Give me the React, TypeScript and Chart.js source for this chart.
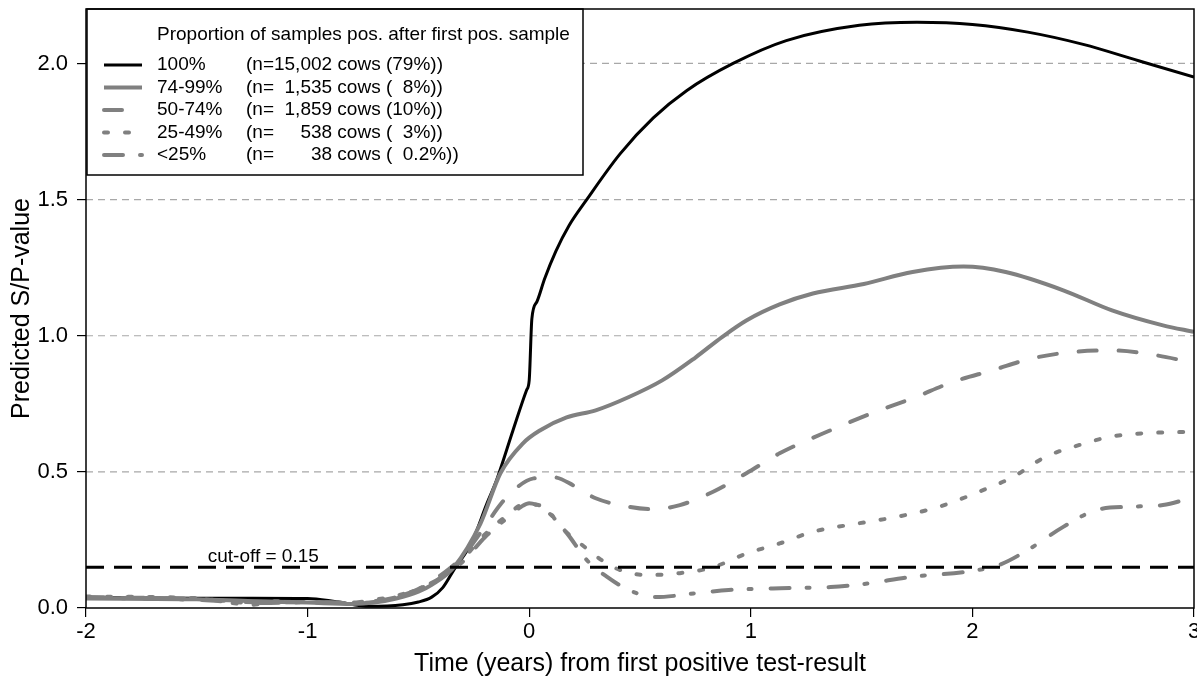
import React, { useEffect, useRef } from "react";
import { Chart, registerables } from "chart.js";

Chart.register(...registerables);

const FONT = '"Liberation Sans", Arial, Helvetica, sans-serif';

// ---- axes / labels ----
const xTicks = [-2, -1, 0, 1, 2, 3];
const yTicks = [0, 0.5, 1, 1.5, 2];
const yGridValues = [0.5, 1, 1.5, 2];
const xMin = -2;
const xMax = 3;
const yMin = 0;
const yMax = 2.2;
const cutoffValue = 0.15;
const cutoffLabel = "cut-off = 0.15";
const cutoffLabelX = -1.2;
const xTitle = "Time (years) from first positive test-result";
const yTitle = "Predicted S/P-value";
const legendTitle = "Proportion of samples pos. after first pos. sample";

const seriesNames = ["100%", "74-99%", "50-74%", "25-49%", "<25%"];
const seriesCounts = [
  "(n=15,002 cows (79%))",
  "(n=  1,535 cows (  8%))",
  "(n=  1,859 cows (10%))",
  "(n=     538 cows (  3%))",
  "(n=       38 cows (  0.2%))",
];

// ---- series: 100% ----
const x100 = [-2, -1.75, -1.5, -1.25, -1.0, -0.87, -0.72, -0.57, -0.5, -0.44, -0.39, -0.34, -0.26, -0.19, -0.147, -0.073, -0.012, 0.0, 0.012, 0.035, 0.07, 0.12, 0.18, 0.257, 0.41, 0.56, 0.71, 0.92, 1.16, 1.49, 1.75, 2.0, 2.25, 2.5, 2.75, 3.0];
const y100 = [0.038, 0.037, 0.036, 0.036, 0.035, 0.023, 0.006, 0.012, 0.022, 0.04, 0.075, 0.14, 0.24, 0.385, 0.47, 0.653, 0.8, 0.836, 1.062, 1.125, 1.21, 1.31, 1.405, 1.497, 1.668, 1.8, 1.9, 2.0, 2.084, 2.14, 2.151, 2.143, 2.115, 2.07, 2.01, 1.95];

// ---- series: 74-99% ----
const x7499 = [-2, -1.5, -1.25, -1.0, -0.8, -0.7, -0.6, -0.5, -0.44, -0.34, -0.22, -0.13, -0.028, 0.05, 0.169, 0.3, 0.45, 0.6, 0.75, 0.87, 0.98, 1.13, 1.28, 1.51, 1.73, 1.96, 2.15, 2.41, 2.63, 2.86, 3.0];
const y7499 = [0.035, 0.032, 0.025, 0.02, 0.015, 0.02, 0.035, 0.06, 0.085, 0.15, 0.31, 0.495, 0.605, 0.653, 0.7, 0.726, 0.775, 0.836, 0.92, 0.995, 1.056, 1.115, 1.155, 1.19, 1.234, 1.254, 1.234, 1.167, 1.093, 1.038, 1.014];

// ---- series: 50-74% ----
const x5074 = [-2, -1.5, -1.2, -1.0, -0.8, -0.7, -0.6, -0.5, -0.4, -0.3, -0.2, -0.13, -0.07, 0.02, 0.11, 0.2, 0.3, 0.45, 0.56, 0.68, 0.83, 0.98, 1.13, 1.36, 1.58, 1.73, 1.91, 2.09, 2.27, 2.45, 2.63, 2.83, 3.0];
const y5074 = [0.04, 0.033, 0.02, 0.022, 0.018, 0.022, 0.04, 0.07, 0.12, 0.19, 0.3, 0.38, 0.433, 0.476, 0.48, 0.45, 0.403, 0.372, 0.363, 0.378, 0.427, 0.495, 0.568, 0.653, 0.726, 0.77, 0.83, 0.873, 0.917, 0.94, 0.946, 0.928, 0.9];

// ---- series: 25-49% ----
const x2549 = [-2, -1.5, -1.25, -1.15, -1.0, -0.8, -0.7, -0.6, -0.5, -0.4, -0.3, -0.2, -0.1, -0.02, 0.07, 0.14, 0.23, 0.38, 0.53, 0.68, 0.83, 0.98, 1.13, 1.28, 1.48, 1.66, 1.85, 2.03, 2.18, 2.33, 2.48, 2.63, 2.81, 3.0];
const y2549 = [0.042, 0.036, 0.012, 0.025, 0.02, 0.02, 0.03, 0.045, 0.07, 0.11, 0.18, 0.27, 0.34, 0.382, 0.37, 0.3, 0.237, 0.15, 0.121, 0.128, 0.15, 0.2, 0.237, 0.28, 0.31, 0.335, 0.372, 0.427, 0.48, 0.555, 0.598, 0.63, 0.643, 0.647];

// ---- series: <25% ----
const x25 = [-2, -1.5, -1.2, -1.0, -0.8, -0.7, -0.6, -0.5, -0.4, -0.3, -0.2, -0.1, -0.03, 0.0, 0.09, 0.17, 0.26, 0.35, 0.45, 0.57, 0.75, 0.9, 1.1, 1.36, 1.51, 1.73, 1.97, 2.12, 2.25, 2.41, 2.56, 2.71, 2.86, 3.0];
const y25 = [0.038, 0.03, 0.018, 0.022, 0.02, 0.025, 0.04, 0.07, 0.11, 0.17, 0.26, 0.33, 0.375, 0.385, 0.348, 0.275, 0.176, 0.115, 0.066, 0.04, 0.054, 0.066, 0.072, 0.077, 0.088, 0.115, 0.133, 0.158, 0.213, 0.298, 0.36, 0.372, 0.378, 0.408];

const seriesX = [x100, x7499, x5074, x2549, x25];
const seriesY = [y100, y7499, y5074, y2549, y25];

// ---- styles ----
const GREY = "#808080";
const seriesStyles = [
  { color: "#000000", width: 3, dash: [] as number[], cap: "butt" as CanvasLineCap },
  { color: GREY, width: 4, dash: [] as number[], cap: "butt" as CanvasLineCap },
  { color: GREY, width: 4, dash: [18, 22], cap: "round" as CanvasLineCap },
  { color: GREY, width: 4, dash: [4, 17], cap: "round" as CanvasLineCap },
  { color: GREY, width: 4, dash: [19, 17, 3, 19], cap: "round" as CanvasLineCap },
];

const decorPlugin = {
  id: "decor",
  beforeDatasetsDraw(chart: any) {
    const { ctx, chartArea: a, scales } = chart;
    const ys = scales.y;
    ctx.save();
    ctx.strokeStyle = "#a8a8a8";
    ctx.lineWidth = 1.2;
    ctx.setLineDash([7, 5]);
    yGridValues.forEach((v) => {
      const py = ys.getPixelForValue(v);
      ctx.beginPath();
      ctx.moveTo(a.left, py);
      ctx.lineTo(a.right, py);
      ctx.stroke();
    });
    ctx.restore();
  },
  afterDatasetsDraw(chart: any) {
    const { ctx, chartArea: a, scales } = chart;
    const xs = scales.x;
    const ys = scales.y;
    ctx.save();

    // cut-off label
    ctx.fillStyle = "#000";
    ctx.font = `19px ${FONT}`;
    ctx.textAlign = "center";
    ctx.textBaseline = "alphabetic";
    ctx.fillText(cutoffLabel, xs.getPixelForValue(cutoffLabelX), ys.getPixelForValue(cutoffValue) - 5);

    // legend box
    const bx = a.left + 1;
    const by = a.top;
    const bw = 496;
    const bh = 166;
    ctx.fillStyle = "#fff";
    ctx.fillRect(bx, by, bw, bh);
    ctx.strokeStyle = "#000";
    ctx.lineWidth = 1.5;
    ctx.setLineDash([]);
    ctx.strokeRect(bx, by, bw, bh);

    ctx.fillStyle = "#000";
    ctx.textAlign = "left";
    ctx.textBaseline = "middle";
    ctx.font = `19px ${FONT}`;
    ctx.fillText(legendTitle, bx + 70, by + 26);
    seriesNames.forEach((name, i) => {
      const ry = by + 56 + i * 22.5;
      const st = seriesStyles[i];
      ctx.save();
      ctx.strokeStyle = st.color;
      ctx.lineWidth = st.width;
      ctx.lineCap = st.cap;
      ctx.setLineDash(st.dash);
      ctx.beginPath();
      ctx.moveTo(bx + 17, ry);
      ctx.lineTo(bx + 55, ry);
      ctx.stroke();
      ctx.restore();
      ctx.fillText(name, bx + 70, ry);
      ctx.fillText(seriesCounts[i], bx + 159, ry);
    });

    // frame
    ctx.strokeStyle = "#000";
    ctx.lineWidth = 1.5;
    ctx.strokeRect(a.left, a.top, a.right - a.left, a.bottom - a.top);

    // axis titles
    ctx.font = `25px ${FONT}`;
    ctx.textAlign = "center";
    ctx.textBaseline = "middle";
    ctx.fillText(xTitle, (a.left + a.right) / 2, a.bottom + 56);
    ctx.save();
    ctx.translate(22, (a.top + a.bottom) / 2);
    ctx.rotate(-Math.PI / 2);
    ctx.fillText(yTitle, 0, 0);
    ctx.restore();

    ctx.restore();
  },
};

export default function App() {
  const ref = useRef<HTMLCanvasElement | null>(null);

  useEffect(() => {
    if (!ref.current) return;
    const datasets: any[] = seriesNames.map((name, i) => ({
      label: name,
      data: seriesX[i].map((x, j) => ({ x, y: seriesY[i][j] })),
      borderColor: seriesStyles[i].color,
      borderWidth: seriesStyles[i].width,
      borderDash: seriesStyles[i].dash,
      borderCapStyle: seriesStyles[i].cap,
      pointRadius: 0,
      cubicInterpolationMode: "monotone",
      fill: false,
      order: i === 0 ? 10 : i,
    }));
    datasets.push({
      label: "cut-off",
      data: [
        { x: xMin, y: cutoffValue },
        { x: xMax, y: cutoffValue },
      ],
      borderColor: "#000",
      borderWidth: 3,
      borderDash: [18, 10],
      pointRadius: 0,
      fill: false,
      order: 0,
    });

    const chart = new Chart(ref.current, {
      type: "line",
      data: { datasets },
      options: {
        animation: false,
        responsive: false,
        layout: { padding: { top: 9, right: 3, bottom: 0, left: 0 } },
        plugins: { legend: { display: false }, tooltip: { enabled: false }, title: { display: false } },
        scales: {
          x: {
            type: "linear",
            min: xMin,
            max: xMax,
            afterBuildTicks: (s: any) => {
              s.ticks = xTicks.map((v) => ({ value: v }));
            },
            afterFit: (s: any) => {
              s.height = 72;
              s.paddingLeft = 0;
              s.paddingRight = 0;
            },
            ticks: {
              autoSkip: false,
              maxRotation: 0,
              padding: 2,
              color: "#000",
              font: { size: 22, family: FONT },
              callback: (v: any) => String(v),
            },
            grid: { drawOnChartArea: false, drawTicks: true, tickLength: 9, color: "#000", lineWidth: 1.2 },
            border: { display: false },
          },
          y: {
            type: "linear",
            min: yMin,
            max: yMax,
            afterBuildTicks: (s: any) => {
              s.ticks = yTicks.map((v) => ({ value: v }));
            },
            afterFit: (s: any) => {
              s.width = 86;
              s.paddingTop = 0;
              s.paddingBottom = 0;
            },
            ticks: {
              autoSkip: false,
              padding: 9,
              color: "#000",
              font: { size: 22, family: FONT },
              callback: (v: any) => Number(v).toFixed(1),
            },
            grid: { drawOnChartArea: false, drawTicks: true, tickLength: 9, color: "#000", lineWidth: 1.2 },
            border: { display: false },
          },
        },
      },
      plugins: [decorPlugin],
    });
    return () => chart.destroy();
  }, []);

  return (
    <div style={{ position: "absolute", left: 0, top: 0, width: 1197, height: 680, background: "#fff" }}>
      <canvas ref={ref} width={1197} height={680} style={{ display: "block" }} />
    </div>
  );
}
